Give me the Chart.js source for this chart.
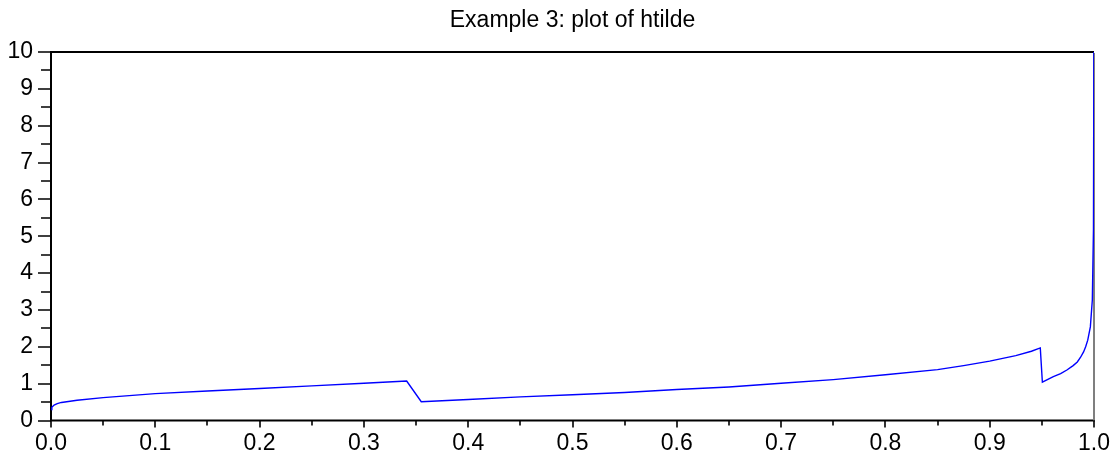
<!DOCTYPE html>
<html>
<head>
<meta charset="utf-8">
<title>Example 3: plot of htilde</title>
<script src="https://cdn.jsdelivr.net/npm/chart.js@4.4.1/dist/chart.umd.min.js"></script>
<style>
  html, body { margin: 0; padding: 0; background: #fff; }
  #wrap { width: 1120px; height: 462px; }
</style>
</head>
<body>
<div id="wrap"><canvas id="plot" width="1120" height="462"></canvas></div>
<script>
const TITLE = 'Example 3: plot of htilde';

// curve samples
const xVals = [0, 0.0008, 0.003, 0.006, 0.01, 0.015, 0.025, 0.05, 0.1, 0.15, 0.2, 0.25, 0.3, 0.341,
               0.355, 0.4, 0.45, 0.5, 0.55, 0.6, 0.65, 0.7, 0.75, 0.8, 0.85, 0.875, 0.9, 0.925, 0.94, 0.9485,
               0.9505, 0.961, 0.968, 0.974, 0.98, 0.984, 0.987, 0.99, 0.992, 0.994, 0.9965, 0.9984, 0.9995, 1.0];
const yVals = [0.30, 0.36, 0.42, 0.46, 0.49, 0.51, 0.55, 0.62, 0.73, 0.80, 0.87, 0.94, 1.01, 1.07,
               0.51, 0.57, 0.64, 0.70, 0.76, 0.84, 0.91, 1.01, 1.11, 1.24, 1.38, 1.49, 1.61, 1.76, 1.88, 1.97,
               1.04, 1.19, 1.27, 1.37, 1.49, 1.59, 1.71, 1.86, 2.0, 2.18, 2.54, 3.27, 5.2, 12];

const xTicks = [0, 0.1, 0.2, 0.3, 0.4, 0.5, 0.6, 0.7, 0.8, 0.9, 1.0];
const xMinor = [0.05, 0.15, 0.25, 0.35, 0.45, 0.55, 0.65, 0.75, 0.85, 0.95];
const yTicks = [0, 1, 2, 3, 4, 5, 6, 7, 8, 9, 10];
const yMinor = [0.5, 1.5, 2.5, 3.5, 4.5, 5.5, 6.5, 7.5, 8.5, 9.5];

const FONT = "'Liberation Sans', Arial, sans-serif";

// box under the curve, title and scilab style ticks on top
const frame = {
    id: 'frame',
    beforeDatasetsDraw(c) {
        const g = c.ctx, a = c.chartArea;
        g.save();
        g.lineCap = 'butt';
        g.lineWidth = 2;
        g.strokeStyle = '#000';
        g.beginPath();
        g.moveTo(a.left, a.top); g.lineTo(a.right, a.top);
        g.moveTo(a.left, a.top - 1); g.lineTo(a.left, a.bottom + 1);
        g.moveTo(a.left - 1, a.bottom); g.lineTo(a.right + 1, a.bottom);
        g.stroke();
        g.strokeStyle = '#7f7f7f';
        g.beginPath();
        g.moveTo(a.right, a.top + 1); g.lineTo(a.right, a.bottom);
        g.stroke();
        g.restore();
    },
    afterDatasetsDraw(c) {
        const g = c.ctx, a = c.chartArea;
        const xs = c.scales.x, ys = c.scales.y;
        g.save();
        g.strokeStyle = '#000';
        g.lineWidth = 1.6;
        g.beginPath();
        yTicks.forEach(v => { const p = Math.round(ys.getPixelForValue(v)); g.moveTo(a.left - 13, p); g.lineTo(a.left, p); });
        yMinor.forEach(v => { const p = Math.round(ys.getPixelForValue(v)); g.moveTo(a.left - 10, p); g.lineTo(a.left, p); });
        xTicks.forEach(v => { const p = Math.round(xs.getPixelForValue(v)); g.moveTo(p, a.bottom); g.lineTo(p, a.bottom + 7); });
        xMinor.forEach(v => { const p = Math.round(xs.getPixelForValue(v)); g.moveTo(p, a.bottom); g.lineTo(p, a.bottom + 5); });
        g.stroke();

        g.fillStyle = '#000';
        g.font = '23px ' + FONT;
        g.textAlign = 'center';
        g.textBaseline = 'alphabetic';
        g.fillText(TITLE, (a.left + a.right) / 2, 26.5);
        g.restore();
    }
};

const ctx = document.getElementById('plot').getContext('2d');
const chart = new Chart(ctx, {
    type: 'line',
    data: {
        datasets: [{
            data: xVals.map((x, i) => ({ x: x, y: yVals[i] })),
            borderColor: '#0000ff',
            borderWidth: 1.4,
            pointRadius: 0,
            tension: 0,
            fill: false
        }]
    },
    options: {
        responsive: false,
        animation: false,
        layout: { padding: { left: 0, right: 26, top: 52, bottom: 0 } },
        plugins: {
            legend: { display: false },
            tooltip: { enabled: false },
            title: { display: false }
        },
        scales: {
            x: {
                type: 'linear',
                min: 0,
                max: 1,
                afterBuildTicks: s => { s.ticks = xTicks.map(v => ({ value: v })); },
                afterFit: s => { s.height = 41.5; },
                grid: { display: false, drawTicks: false },
                border: { display: false },
                ticks: {
                    color: '#000',
                    padding: 9,
                    maxRotation: 0,
                    autoSkip: false,
                    font: { family: FONT, size: 23 },
                    callback: v => v.toFixed(1)
                }
            },
            y: {
                type: 'linear',
                min: 0,
                max: 10,
                afterBuildTicks: s => { s.ticks = yTicks.map(v => ({ value: v })); },
                afterFit: s => { s.width = 51; },
                grid: { display: false, drawTicks: false },
                border: { display: false },
                ticks: {
                    color: '#000',
                    padding: 18,
                    autoSkip: false,
                    font: { family: FONT, size: 23 },
                    callback: v => String(v)
                }
            }
        }
    },
    plugins: [frame]
});
</script>
</body>
</html>
